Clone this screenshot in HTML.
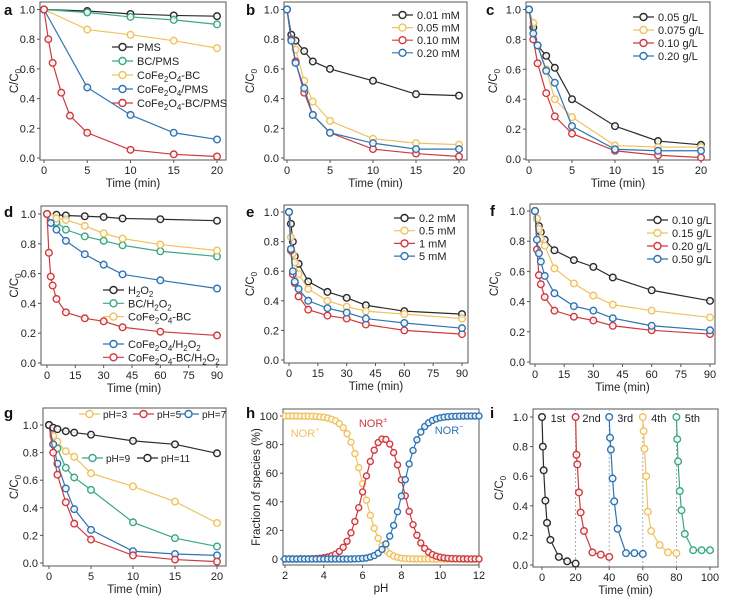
<!DOCTYPE html>
<html><head><meta charset="utf-8"><style>
body{margin:0;background:#fff;}
svg{display:block;font-family:"Liberation Sans",sans-serif;}
</style></head><body>
<svg id="fig" width="737" height="604" viewBox="0 0 737 604" xmlns="http://www.w3.org/2000/svg"></svg>
<script>
// ---------- data ----------
const aX=[0,5,10,15,20];
const aX2=[0,0.5,1,2,3,5,10,15,20];
const aPMS=[1,0.99,0.97,0.96,0.955];
const aBC=[1,0.98,0.95,0.93,0.90];
const aCoBC=[1,0.865,0.83,0.79,0.74];
const aCo=[1,0.475,0.29,0.17,0.125];
const aCoBCPMS=[1,0.80,0.64,0.44,0.285,0.17,0.055,0.025,0.01];
const bX=[0,0.5,1,2,3,5,10,15,20];
const b001=[1,0.83,0.79,0.72,0.65,0.60,0.52,0.43,0.42];
const b005=[1,0.80,0.73,0.52,0.38,0.25,0.13,0.10,0.09];
const b010=[1,0.80,0.65,0.44,0.29,0.17,0.06,0.03,0.01];
const b020=[1,0.79,0.64,0.47,0.29,0.17,0.10,0.06,0.06];
const c005=[1,0.88,0.76,0.69,0.61,0.40,0.22,0.12,0.095];
const c0075=[1,0.91,0.76,0.60,0.40,0.28,0.09,0.08,0.08];
const c010=[1,0.80,0.64,0.44,0.285,0.17,0.055,0.025,0.01];
const c020=[1,0.84,0.76,0.59,0.51,0.22,0.065,0.055,0.055];
const dXh=[0,5,10,20,30,40,60,90];
const dX9=[0,2,5,10,20,30,40,60,90];
const dX11=[0,1,2,3,5,10,20,30,40,60,90];
const dH2O2=[1,0.995,0.99,0.985,0.98,0.97,0.965,0.955];
const dBC=[1,0.97,0.945,0.895,0.85,0.82,0.79,0.75,0.715];
const dCoBC=[1,0.98,0.97,0.96,0.92,0.87,0.835,0.795,0.755];
const dCo=[1,0.94,0.895,0.82,0.73,0.66,0.595,0.555,0.50];
const dCoBCH=[1,0.74,0.58,0.52,0.43,0.34,0.30,0.28,0.24,0.21,0.185];
const eX=[0,1,2,3,5,10,20,30,40,60,90];
const e02=[1,0.92,0.80,0.70,0.65,0.53,0.46,0.42,0.37,0.33,0.31];
const e05=[1,0.83,0.72,0.66,0.58,0.48,0.40,0.36,0.33,0.31,0.28];
const e1=[1,0.74,0.58,0.52,0.43,0.34,0.30,0.28,0.24,0.20,0.175];
const e5=[1,0.75,0.60,0.53,0.48,0.40,0.35,0.32,0.28,0.25,0.215];
const f010=[1,0.95,0.90,0.86,0.81,0.74,0.675,0.63,0.56,0.475,0.405];
const f015=[1,0.95,0.88,0.82,0.77,0.62,0.52,0.44,0.38,0.34,0.295];
const f020=[1,0.745,0.575,0.515,0.43,0.34,0.30,0.275,0.24,0.21,0.185];
const f050=[1,0.81,0.72,0.665,0.57,0.455,0.37,0.34,0.29,0.24,0.21];
const gX=[0,0.5,1,2,3,5,10,15,20];
const gpH3=[1,0.92,0.88,0.81,0.77,0.65,0.555,0.445,0.29];
const gpH5=[1,0.80,0.64,0.44,0.285,0.17,0.055,0.025,0.01];
const gpH7=[1,0.86,0.72,0.54,0.39,0.24,0.085,0.065,0.055];
const gpH9=[1,0.86,0.83,0.69,0.62,0.53,0.295,0.18,0.12];
const gpH11=[1,0.98,0.97,0.955,0.945,0.93,0.885,0.86,0.795];
const hpH=[2,2.2,2.4,2.6,2.8,3,3.2,3.4,3.6,3.8,4,4.2,4.4,4.6,4.8,5,5.2,5.4,5.6,5.8,6,6.2,6.4,6.6,6.8,7,7.2,7.4,7.6,7.8,8,8.2,8.4,8.6,8.8,9,9.2,9.4,9.6,9.8,10,10.2,10.4,10.6,10.8,11,11.2,11.4,11.6,11.8,12];
const hPlus=[100,100,100,100,99.9,99.9,99.9,99.8,99.7,99.4,99.1,98.6,97.8,96.6,94.7,91.8,87.6,81.7,73.7,63.9,52.7,41.1,30.5,21.5,14.5,9.4,5.9,3.6,2.1,1.2,0.6,0.3,0.1,0.1,0,0,0,0,0,0,0,0,0,0,0,0,0,0,0,0,0];
const hZw=[0,0,0,0,0.1,0.1,0.1,0.2,0.3,0.6,0.9,1.4,2.2,3.4,5.3,8.2,12.4,18.3,26.2,35.9,46.9,58.1,68.2,76.1,81.4,83.9,83.6,80.4,74.4,65.8,55.4,44.2,33.3,24.0,16.6,11.2,7.4,4.8,3.1,2.0,1.25,0.8,0.5,0.3,0.2,0.13,0.08,0.05,0.03,0.02,0.01];
const hMinus=[0,0,0,0,0,0,0,0,0,0,0,0,0,0,0,0,0,0,0.1,0.2,0.4,0.7,1.4,2.4,4.1,6.7,10.5,16.0,23.5,33.0,44.0,55.5,66.5,75.9,83.4,88.8,92.6,95.2,96.9,98.0,98.75,99.2,99.5,99.7,99.8,99.87,99.92,99.95,99.97,99.98,99.99];
const iX=[0,0.5,1,2,3,5,10,15,20];
const iOff=[0,20,40,60,80];
const i1=[1,0.80,0.64,0.435,0.285,0.17,0.055,0.025,0.01];
const i2=[1,0.745,0.68,0.49,0.355,0.23,0.085,0.07,0.055];
const i3=[1,0.86,0.78,0.585,0.43,0.245,0.08,0.08,0.075];
const i4=[1,0.905,0.785,0.60,0.36,0.23,0.135,0.085,0.08];
const i5=[1,0.85,0.70,0.50,0.37,0.21,0.10,0.10,0.10];
const cycleLabels=["1st","2nd","3rd","4th","5th"];
const tick02=["0.0","0.2","0.4","0.6","0.8","1.0"];
// ---------- drawing ----------
const NS="http://www.w3.org/2000/svg";
const svg=document.getElementById('fig');
const K='#2b2b2b',G='#3aa884',Y='#f0c260',R='#cf3a3e',B='#2e74b3';
function el(tag,attrs,parent){const e=document.createElementNS(NS,tag);for(const k in attrs)e.setAttribute(k,attrs[k]);(parent||svg).appendChild(e);return e;}
function txt(s,x,y,size,anchor,parent,fill,weight){const t=el('text',{x:x,y:y,'font-size':size,'text-anchor':anchor||'start',fill:fill||'#222','font-weight':weight||'normal'},parent);t.textContent=s;return t;}
function panel(p){
  const g=el('g',{},svg);
  
  
  const sx=v=>p.xp[0]+(v-p.xd[0])*(p.xp[1]-p.xp[0])/(p.xd[1]-p.xd[0]);
  const sy=v=>p.yp[0]+(v-p.yd[0])*(p.yp[1]-p.yp[0])/(p.yd[1]-p.yd[0]);
  p.sx=sx;p.sy=sy;p.g=g;
  const fr=el('rect',{x:p.L,y:p.T,width:p.R-p.L,height:p.B-p.T,fill:'none',stroke:'#555','stroke-width':1},g);
  
  
  p.xt.forEach(v=>{const x=sx(v);el('line',{x1:x,x2:x,y1:p.B,y2:p.B+3,stroke:'#555'},g);
    const t=txt(String(v),x,p.B+14,11,'middle',g);});
  p.yt.forEach((v,i)=>{const y=sy(v);el('line',{x1:p.L-3,x2:p.L,y1:y,y2:y,stroke:'#555'},g);
    const t=txt(p.ytl?p.ytl[i]:String(v),p.L-5,y+4,11,'end',g);});
  const xt=txt(p.xtitle,(p.L+p.R)/2,p.B+27,11.5,'middle',g);
  
  const yc=(p.T+p.B)/2;
  const yt=el('text',{x:p.ytx,y:yc,'font-size':11.5,'text-anchor':'middle',fill:'#222',transform:'rotate(-90 '+p.ytx+' '+yc+')'},g);
  
  if(p.ytitle==='C/C0'){yt.textContent='C/C';const s=el('tspan',{'font-size':8,dy:3},yt);s.textContent='0';}else yt.textContent=p.ytitle;
  const lt=txt(p.id,p.lx,p.ly,15,'start',g,'#111','bold');
  
  return p;
}
function series(p,xs,ys,col,name,off,noLine,r){
  off=off||0;r=r||3.3;
  const g=el('g',{},p.g);
  
  
  if(!noLine){const pts=xs.map((x,i)=>p.sx(x+off)+','+p.sy(ys[i])).join(' ');
    el('polyline',{points:pts,fill:'none',stroke:col,'stroke-width':1.2},g);}
  xs.forEach((x,i)=>{const c=el('circle',{cx:p.sx(x+off),cy:p.sy(ys[i]),r:r,fill:'#fff','fill-opacity':0.85,stroke:col,'stroke-width':1.4},g);
    });
}
// label spec: "_" marks next char as subscript, e.g. "CoFe_2O_4-BC"
function richText(t,spec,fs){
  let i=0,sub=false;
  while(i<spec.length){
    if(spec[i]==='_'){const ts=el('tspan',{'font-size':fs*0.72,dy:sub?0:3},t);ts.textContent=spec[i+1];sub=true;i+=2;}
    else{let j=i;while(j<spec.length&&spec[j]!=='_')j++;
      const ts=el('tspan',{'font-size':fs,dy:sub?-3:0},t);ts.textContent=spec.slice(i,j);sub=false;i=j;}
  }
}
function legend(p,items,x,y0,dy,fs,gap){
  fs=fs||11;gap=gap||25;
  items.forEach((it,i)=>{const y=y0+i*dy;const g=el('g',{},p.g);
    
    el('line',{x1:x,x2:x+21,y1:y,y2:y,stroke:it[1],'stroke-width':1.2},g);
    el('circle',{cx:x+10.5,cy:y,r:3.5,fill:'#fff',stroke:it[1],'stroke-width':1.4},g);
    const t=el('text',{x:x+gap,y:y+4,'font-size':fs,fill:'#222'},g);
    richText(t,it[0],fs);
  });
}
const yr=[0,0.2,0.4,0.6,0.8,1.0];
// a
let a=panel({id:'a',L:40,R:226,T:2,B:160,xd:[0,20],xp:[44,217],yd:[0,1],yp:[158,9.5],xt:aX,yt:yr,ytl:tick02,xtitle:'Time (min)',ytitle:'C/C0',ytx:18,lx:4,ly:15});
series(a,aX,aPMS,K,'pms');series(a,aX,aBC,G,'bc-pms');series(a,aX,aCoBC,Y,'cofe2o4-bc');series(a,aX,aCo,B,'cofe2o4-pms');series(a,aX2,aCoBCPMS,R,'cofe2o4-bc-pms');
legend(a,[['PMS',K],['BC/PMS',G],['CoFe_2O_4-BC',Y],['CoFe_2O_4/PMS',B],['CoFe_2O_4-BC/PMS',R]],112,47,14);
// b
let b=panel({id:'b',L:284,R:467,T:2,B:160,xd:[0,20],xp:[287,459],yd:[0,1],yp:[158,9.5],xt:aX,yt:yr,ytl:tick02,xtitle:'Time (min)',ytitle:'C/C0',ytx:254,lx:246,ly:15});
series(b,bX,b001,K,'0.01mM');series(b,bX,b005,Y,'0.05mM');series(b,bX,b010,R,'0.10mM');series(b,bX,b020,B,'0.20mM');
legend(b,[['0.01 mM',K],['0.05 mM',Y],['0.10 mM',R],['0.20 mM',B]],392,15,12.6);
// c
let c=panel({id:'c',L:526,R:710,T:2,B:160,xd:[0,20],xp:[529,701],yd:[0,1],yp:[159,9.5],xt:aX,yt:yr,ytl:tick02,xtitle:'Time (min)',ytitle:'C/C0',ytx:497,lx:486,ly:15});
series(c,bX,c005,K,'0.05gL');series(c,bX,c0075,Y,'0.075gL');series(c,bX,c010,R,'0.10gL');series(c,bX,c020,B,'0.20gL');
legend(c,[['0.05 g/L',K],['0.075 g/L',Y],['0.10 g/L',R],['0.20 g/L',B]],633,17,13);
// d
const dT=[0,15,30,45,60,75,90];
let d=panel({id:'d',L:41,R:227,T:206,B:365,xd:[0,90],xp:[47,217],yd:[0,1],yp:[363,214],xt:dT,yt:yr,ytl:tick02,xtitle:'Time (min)',ytitle:'C/C0',ytx:18,lx:4,ly:217});
series(d,dXh,dH2O2,K,'h2o2');series(d,dX9,dBC,G,'bc-h2o2');series(d,dX9,dCoBC,Y,'cofe2o4-bc');series(d,dX9,dCo,B,'cofe2o4-h2o2');series(d,dX11,dCoBCH,R,'cofe2o4-bc-h2o2');
legend(d,[['H_2O_2',K],['BC/H_2O_2',G],['CoFe_2O_4-BC',Y]],103,290,13.3);
legend(d,[['CoFe_2O_4/H_2O_2',B],['CoFe_2O_4-BC/H_2O_2',R]],103,344,13.3);
// e
let e=panel({id:'e',L:284,R:468,T:205,B:363,xd:[0,90],xp:[289,462],yd:[0,1],yp:[360,212],xt:dT,yt:yr,ytl:tick02,xtitle:'Time (min)',ytitle:'C/C0',ytx:254,lx:246,ly:217});
series(e,eX,e02,K,'0.2mM');series(e,eX,e05,Y,'0.5mM');series(e,eX,e1,R,'1mM');series(e,eX,e5,B,'5mM');
legend(e,[['0.2 mM',K],['0.5 mM',Y],['1 mM',R],['5 mM',B]],394,218,12.7);
// f
let f=panel({id:'f',L:530,R:715,T:204,B:364,xd:[0,90],xp:[535,710],yd:[0,1],yp:[362,211],xt:dT,yt:yr,ytl:tick02,xtitle:'Time (min)',ytitle:'C/C0',ytx:498,lx:490,ly:216});
series(f,eX,f010,K,'0.10gL');series(f,eX,f015,Y,'0.15gL');series(f,eX,f020,R,'0.20gL');series(f,eX,f050,B,'0.50gL');
legend(f,[['0.10 g/L',K],['0.15 g/L',Y],['0.20 g/L',R],['0.50 g/L',B]],647,220,13);
// g
let gp=panel({id:'g',L:43,R:226,T:408,B:566,xd:[0,20],xp:[49,217],yd:[0,1],yp:[563,425],xt:aX,yt:yr,ytl:tick02,xtitle:'Time (min)',ytitle:'C/C0',ytx:18,lx:4,ly:418});
series(gp,gX,gpH3,Y,'ph3');series(gp,gX,gpH9,G,'ph9');series(gp,gX,gpH7,B,'ph7');series(gp,gX,gpH5,R,'ph5');series(gp,gX,gpH11,K,'ph11');
legend(gp,[['pH=3',Y]],79,414,0,10,24);legend(gp,[['pH=5',R]],133,414,0,10,24);legend(gp,[['pH=7',B]],178,414,0,10,24);
legend(gp,[['pH=9',G]],82,458,0,10,24);legend(gp,[['pH=11',K]],137,458,0,10,24);
// h
let h=panel({id:'h',L:283,R:479,T:409,B:565,xd:[2,12],xp:[285,479],yd:[0,100],yp:[559,416],xt:[2,4,6,8,10,12],yt:[0,20,40,60,80,100],xtitle:'pH',ytitle:'Fraction of species (%)',ytx:260,lx:246,ly:418});
series(h,hpH,hPlus,Y,'nor-plus',0,false,3);series(h,hpH,hZw,R,'nor-zwitterion',0,false,3);series(h,hpH,hMinus,B,'nor-minus',0,false,3);
[['NOR','+',Y,305,437],['NOR','±',R,373,427],['NOR','−',B,449,434]].forEach(l=>{const t=txt(l[0],l[3],l[4],11,'middle',h.g,l[2]);const s=el('tspan',{'font-size':7,dy:-5},t);s.textContent=l[1];
  });
// i
let ip=panel({id:'i',L:533,R:718,T:409,B:567,xd:[0,100],xp:[542,710],yd:[0,1],yp:[565,417],xt:[0,20,40,60,80,100],yt:yr,ytl:tick02,xtitle:'Time (min)',ytitle:'C/C0',ytx:503,lx:490,ly:418});
[20,40,60,80].forEach(v=>{const x=ip.sx(v);const ln=el('line',{x1:x,x2:x,y1:ip.T,y2:ip.B,stroke:'#999','stroke-dasharray':'2,2','stroke-width':0.8},ip.g);
  });
const iCols=[K,R,B,Y,G];const iData=[i1,i2,i3,i4,i5];
iData.forEach((s,k)=>series(ip,iX,s,iCols[k],'cycle-'+(k+1),iOff[k]));
cycleLabels.forEach((s,k)=>{const t=txt(s,ip.sx(iOff[k])+16,422,11,'middle',ip.g);});
</script>
</body></html>
